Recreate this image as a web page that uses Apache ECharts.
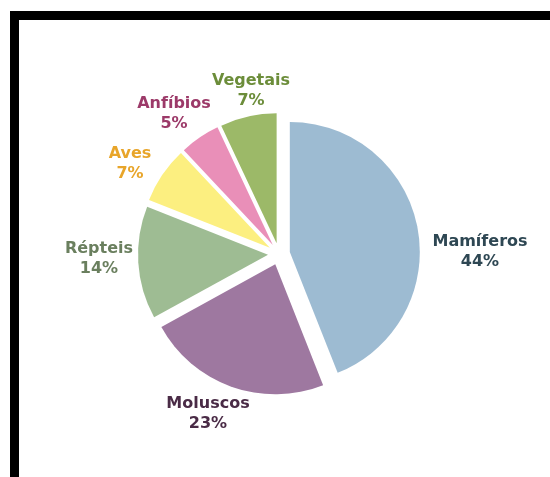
<!DOCTYPE html>
<html>
<head>
<meta charset="utf-8">
<script src="https://cdn.jsdelivr.net/npm/echarts@6/dist/echarts.min.js"></script>
<style>
  html, body { margin: 0; padding: 0; background: #fff; }
  #chart { position: absolute; left: 0; top: 0; width: 550px; height: 477px; }
  #frame {
    position: absolute; left: 10px; top: 11px; width: 540px; height: 466px;
    border-top: 9px solid #000; border-left: 9px solid #000;
    box-sizing: border-box; pointer-events: none;
  }
</style>
</head>
<body>
<div id="chart"></div>
<div id="frame"></div>
<script>
// dados
var categorias = ['Mamíferos', 'Moluscos', 'Répteis', 'Aves', 'Anfíbios', 'Vegetais'];
var valores = [44, 23, 14, 7, 5, 7];

// cores das fatias e dos rótulos
var coresFatia = ['#9dbbd2', '#9e78a0', '#9ebc93', '#fcef80', '#e98fb8', '#9cb968'];
var coresTexto = ['#2e4753', '#4a2b46', '#6a7f5e', '#e8a52a', '#9c3a69', '#6c8d3a'];

// centro de cada rótulo (como no original)
var rotuloXY = [[480, 252], [208, 414], [99, 259], [130, 164], [174, 114], [251, 91]];

var myChart = echarts.init(document.getElementById('chart'));

var dados = categorias.map(function (nome, i) {
  return {
    name: nome,
    value: valores[i],
    selected: true,
    itemStyle: { color: coresFatia[i] }
  };
});

// rótulos: nome + percentagem, centrados
var rotulos = categorias.map(function (nome, i) {
  return {
    type: 'text',
    x: rotuloXY[i][0],
    y: rotuloXY[i][1],
    silent: true,
    style: {
      text: nome + '\n' + valores[i] + '%',
      fill: coresTexto[i],
      font: 'bold 16px "DejaVu Sans"',
      lineHeight: 20,
      align: 'center',
      verticalAlign: 'middle'
    }
  };
});

var option = {
  animation: false,
  graphic: rotulos,
  series: [{
    type: 'pie',
    center: [279, 254],
    radius: 130,
    startAngle: 90,
    clockwise: true,
    selectedMode: 'multiple',
    selectedOffset: 11,
    label: { show: false },
    labelLine: { show: false },
    emphasis: { disabled: true },
    data: dados
  }]
};

myChart.setOption(option);
</script>
</body>
</html>
